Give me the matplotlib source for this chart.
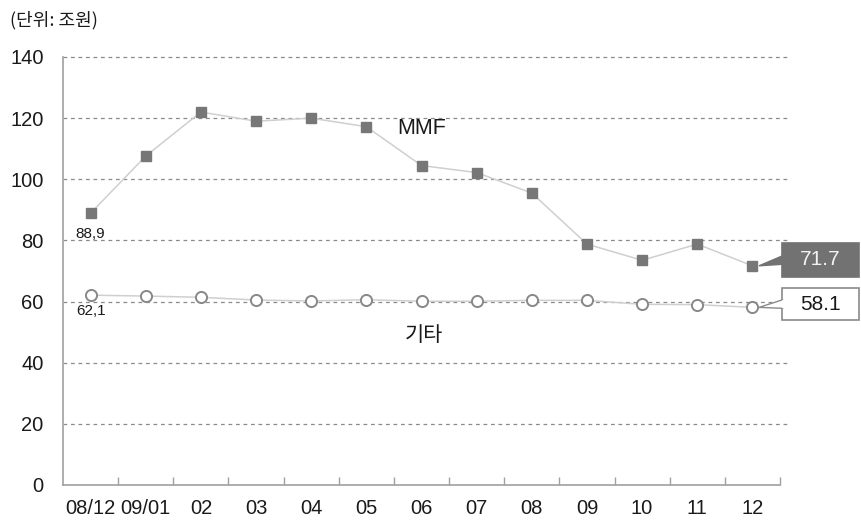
import matplotlib
matplotlib.use("Agg")
import matplotlib.pyplot as plt
from matplotlib.patches import Polygon, Rectangle

plt.rcParams['font.family'] = ['Liberation Sans', 'Noto Sans CJK KR', 'DejaVu Sans']

months = ["08/12", "09/01", "02", "03", "04", "05", "06", "07", "08", "09", "10", "11", "12"]
mmf = [88.9, 107.6, 122.0, 119.0, 120.0, 117.2, 104.5, 102.2, 95.5, 78.8, 73.5, 78.8, 71.7]
others = [62.1, 61.8, 61.4, 60.5, 60.2, 60.6, 60.1, 60.1, 60.4, 60.4, 59.1, 59.0, 58.1]
yticks = [0, 20, 40, 60, 80, 100, 120, 140]

W, H = 861, 523
fig = plt.figure(figsize=(W / 100, H / 100), dpi=100)
ax = fig.add_axes([63 / W, 1 - 485 / H, (780 - 63) / W, (485 - 57) / H])

x = list(range(len(months)))
ax.set_xlim(-0.5, len(months) - 0.5)
ax.set_ylim(0, 140)

# dashed horizontal guides, running slightly past the plot area
for yv in yticks[1:]:
    ax.axhline(yv, xmin=0, xmax=1.012, color="#8a8a8a", lw=0.9,
               ls=(0, (3, 3)), clip_on=False, zorder=1)

ax.plot(x, mmf, color="#cfcfcf", lw=1.1, zorder=2)
ax.plot(x, mmf, ls="none", marker="s", ms=7.5, mfc="#777777", mec="#777777", zorder=3)
ax.plot(x, others, color="#cfcfcf", lw=1.1, zorder=2)
ax.plot(x, others, ls="none", marker="o", ms=8, mfc="white", mec="#888888", mew=1.4, zorder=3)

for s in ["top", "right"]:
    ax.spines[s].set_visible(False)
ax.spines["left"].set_color("#a0a0a0")
ax.spines["bottom"].set_color("#a0a0a0")
ax.spines["left"].set_linewidth(1.2)
ax.spines["bottom"].set_linewidth(1.2)

ax.set_yticks(yticks)
ax.set_yticklabels([str(v) for v in yticks], fontsize=14.5, color="#1a1a1a")
ax.tick_params(axis="y", length=0, pad=14)

ax.set_xticks(x)
ax.set_xticklabels(months, fontsize=14.5, color="#1a1a1a")
ax.tick_params(axis="x", which="major", length=0, pad=10)
ax.set_xticks([i + 0.5 for i in x], minor=True)
ax.tick_params(axis="x", which="minor", direction="in", length=6, color="#a0a0a0", width=1)

# series names
ax.text(6.0, 116.5, "MMF", fontsize=15.5, color="#1a1a1a", ha="center", va="center")
ax.text(6.05, 49, "기타", fontsize=15, color="#1a1a1a", ha="center", va="center",
        family=['Noto Sans CJK KR', 'DejaVu Sans'], weight="medium")

# first-point value labels
ax.text(0, mmf[0] - 4.5, f"{mmf[0]:.1f}".replace(".", ","), fontsize=11,
        color="#1a1a1a", ha="center", va="top")
ax.text(0, others[0] - 3.0, f"{others[0]:.1f}".replace(".", ","), fontsize=11,
        color="#1a1a1a", ha="center", va="top")

# last-point callout boxes
last = len(months) - 1
bx0, bx1 = 12.54, 13.93

def callout(yv, y_lo, y_hi, face, edge, tcolor):
    ax.add_patch(Rectangle((bx0, y_lo), bx1 - bx0, y_hi - y_lo, facecolor=face,
                           edgecolor=edge, lw=1.2, clip_on=False, zorder=4))
    mid = (y_lo + y_hi) / 2
    tri = Polygon([(last + 0.12, yv), (bx0 + 0.01, mid + 1.4), (bx0 + 0.01, mid - 1.4)],
                  closed=True, facecolor=face, edgecolor=edge, lw=1.0,
                  clip_on=False, zorder=4)
    ax.add_patch(tri)
    if face == "white":
        ax.add_patch(Rectangle((bx0 - 0.005, mid - 1.3), 0.03, 2.6, facecolor="white",
                               edgecolor="none", clip_on=False, zorder=5))
    ax.text((bx0 + bx1) / 2, mid, f"{yv:.1f}", fontsize=15, color=tcolor,
            ha="center", va="center", zorder=6)

callout(mmf[-1], 68.0, 79.2, "#727272", "#727272", "#f2f2f2")
callout(others[-1], 54.0, 64.4, "white", "#8a8a8a", "#1a1a1a")

fig.text(10 / W, 1 - 20 / H, "(단위: 조원)", fontsize=13, color="#1a1a1a",
         ha="left", va="center", family=['Noto Sans CJK KR', 'DejaVu Sans'],
         weight="medium")

fig.savefig("out.png", dpi=100, facecolor="white")
